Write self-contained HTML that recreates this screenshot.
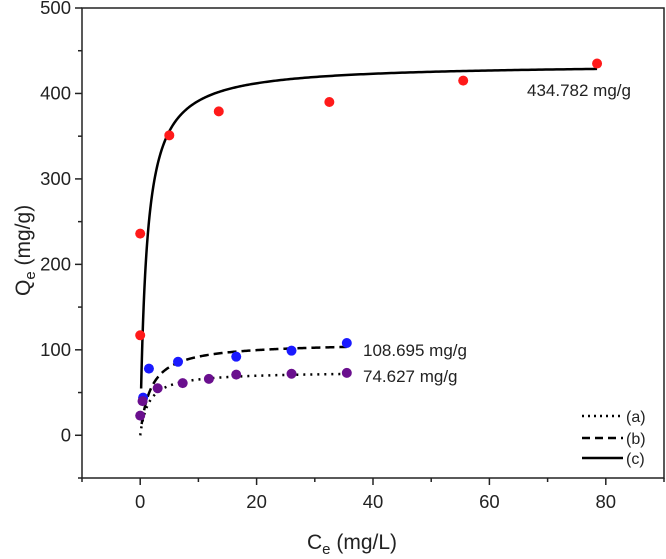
<!DOCTYPE html>
<html><head><meta charset="utf-8"><style>
body{margin:0;background:#fff}
text{font-family:"Liberation Sans",Arial,sans-serif;fill:#222}
</style></head><body>
<svg id="chart" width="666" height="554" xmlns="http://www.w3.org/2000/svg">
<g id="plot"></g>
</svg>
<script>
const xTicks=[0,20,40,60,80];
const yTicks=[0,100,200,300,400,500];
const redX=[0,0,5,13.5,32.5,55.5,78.5];
const redY=[117,236,351,379,390,415,435];
const blueX=[0.5,1.5,6.5,16.5,26,35.5];
const blueY=[44,78,86,92,99,108];
const purpleX=[0,0.4,3,7.3,11.8,16.5,26,35.5];
const purpleY=[23,40,55,61,66,71,72,73];
const qmA=74.627,kA=0.7,endA=35.5,startA=0;
const qmB=108.695,kB=0.55,endB=35.5,startB=0.25;
const qmC=434.782,kC=0.9,endC=78.5,startC=0.16;
const NS="http://www.w3.org/2000/svg";
const L=82,R=664,T=8,B=478,xmin=-10,xmax=90,ymin=-50,ymax=500;
const X=v=>L+(v-xmin)/(xmax-xmin)*(R-L);
const Y=v=>B-(v-ymin)/(ymax-ymin)*(B-T);
const g=document.getElementById('plot');
function mk(tag,attrs,txt){const e=document.createElementNS(NS,tag);for(const k in attrs)e.setAttribute(k,attrs[k]);if(txt!==undefined)e.textContent=txt;g.appendChild(e);return e;}
let e=mk('rect',{x:L,y:T,width:R-L,height:B-T,fill:'none',stroke:'#222','stroke-width':1.5});


xTicks.forEach(v=>{
 let t=mk('line',{x1:X(v),x2:X(v),y1:B,y2:B+7,stroke:'#222','stroke-width':1.5});
 
 
 let m=mk('line',{x1:X(v+10),x2:X(v+10),y1:B,y2:B+4,stroke:'#222','stroke-width':1.5});
 
 
 let l=mk('text',{x:X(v),y:B+30,'text-anchor':'middle','font-size':18.5},String(v));
 
 
});
let m0=mk('line',{x1:X(-10),x2:X(-10),y1:B,y2:B+4,stroke:'#222','stroke-width':1.5});


yTicks.forEach(v=>{
 let t=mk('line',{x1:L-7,x2:L,y1:Y(v),y2:Y(v),stroke:'#222','stroke-width':1.5});
 
 
 let m=mk('line',{x1:L-4,x2:L,y1:Y(v-50),y2:Y(v-50),stroke:'#222','stroke-width':1.5});
 
 
 let l=mk('text',{x:L-11,y:Y(v)+6,'text-anchor':'end','font-size':18.5},String(v));
 
 
});
function curve(qm,k,s,en,dash,w,name){
 let d='';const n=300;
 for(let i=0;i<=n;i++){const c=s+(en-s)*Math.pow(i/n,2.5);const q=qm*k*c/(1+k*c);d+=(i?'L':'M')+X(c).toFixed(2)+','+Y(q).toFixed(2);}
 let p=mk('path',{d:d,fill:'none',stroke:'#000','stroke-width':w,'stroke-dasharray':dash});
 
 
}
curve(qmA,kA,startA,endA,'2 5',2.5,'curve-a');
curve(qmB,kB,startB,endB,'9 5',2.5,'curve-b');
curve(qmC,kC,startC,endC,'none',2.5,'curve-c');
function pts(xs,ys,col,name){xs.forEach((v,i)=>{let c=mk('circle',{cx:X(v),cy:Y(ys[i]),r:5,fill:col});
 
 });}
pts(redX,redY,'#ff1a1a','point-c');
pts(blueX,blueY,'#1a1aff','point-b');
pts(purpleX,purpleY,'#6a0f8e','point-a');
const ann=[['434.782 mg/g',527,96],['108.695 mg/g',363,356],['74.627 mg/g',363,382]];
ann.forEach(a=>{let t=mk('text',{x:a[1],y:a[2],'font-size':17},a[0]);
 
 });
const leg=[['(a)','2 4',416],['(b)','8 5',438],['(c)','none',458]];
leg.forEach(a=>{let l=mk('line',{x1:582,x2:623,y1:a[2],y2:a[2],stroke:'#000','stroke-width':2.5,'stroke-dasharray':a[1]});
 
 
 let t=mk('text',{x:626,y:a[2]+6,'font-size':16},a[0]);
 
 });
let xt=mk('text',{x:307,y:549,'font-size':21});
xt.innerHTML='C<tspan font-size="15" dy="5">e</tspan><tspan dy="-5"> (mg/L)</tspan>';


let yt=mk('text',{x:0,y:0,'font-size':21,transform:'translate(30,296) rotate(-90)'});
yt.innerHTML='Q<tspan font-size="15" dy="5">e</tspan><tspan dy="-5"> (mg/g)</tspan>';


</script>
</body></html>
